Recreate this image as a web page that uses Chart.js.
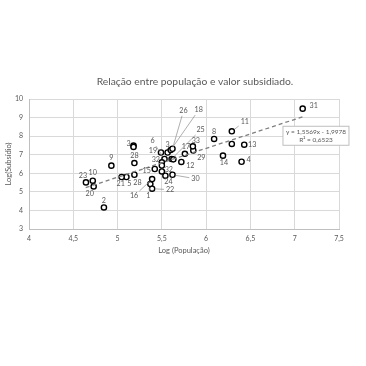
<!DOCTYPE html>
<html>
<head>
<meta charset="utf-8">
<script src="https://cdn.jsdelivr.net/npm/chart.js@4/dist/chart.umd.min.js"></script>
<style>
  html, body { margin: 0; padding: 0; background: #fff; }
  canvas { display: block; }
</style>
</head>
<body>
<canvas id="scatterChart" width="366" height="366"></canvas>
<script>
// point labels as shown next to each marker
let pointLabels = ['1', '2', '3', '', '3', '4', '5', '6', '8', '9', '10', '11', '', '12', '13', '14', '15', '16', '17',
  '18', '19', '20', '21', '22', '23', '24', '25', '26', '28', '28', '29', '30', '31', '32', '32', '33', '', ''];
let logPop = [5.37, 4.846, 5.18, 5.18, 5.565, 6.40, 5.10, 5.53, 6.09, 4.93, 4.72, 6.29, 6.29, 5.72, 6.43, 6.19, 5.42, 5.39, 5.76,
  5.60, 5.49, 4.73, 5.046, 5.39, 4.643, 5.54, 5.61, 5.62, 5.19, 5.19, 5.855, 5.62, 7.09, 5.50, 5.50, 5.85, 5.63, 5.50];
let logSub = [5.42, 4.16, 7.49, 7.42, 7.12, 6.62, 5.80, 6.77, 7.85, 6.41, 5.60, 8.26, 7.58, 6.61, 7.54, 6.95, 6.23, 5.69, 7.05,
  7.25, 7.12, 5.29, 5.80, 5.17, 5.51, 5.87, 6.77, 7.32, 5.92, 6.55, 7.23, 5.92, 9.48, 6.59, 6.10, 7.45, 6.75, 6.42];

// linear trend shown on the chart
let trendSlope = 1.5569;
let trendIntercept = -1.9978;
let trendRange = [4.64, 7.1];
let trendText = ['y = 1,5569x - 1,9978', 'R² = 0,6523'];

let chartTitle = 'Relação entre população e valor subsidiado.';
let xTicks = [4, 4.5, 5, 5.5, 6, 6.5, 7, 7.5];
let yTicks = [3, 4, 5, 6, 7, 8, 9, 10];

// label placement (px offset from marker, leader line)
let labelOffsets = [[-2, 12, true], [0, -7], [-5, -2], null, [0, -8], [7, -2], [3, 7], [-12, -18, true], [0, -7], [0, -8],
  [0, -8], [13, -10, true], null, [9, 4], [8, 0], [1, 7], [-8, 2], [-18, 17, true], [1, -7],
  [28, -40, true], [-8, -2], [-4, 7], [-1, 7], [18, 1, true], [-3, -7], [3, 6], [29, -29, true], [11, -38, true],
  [3, 8], [0, -7], [8, 7], [23, 4, true], [11, -3], [-6, -3], [7, -2], [3, -6], null, null];

let txtColor = '#595959';
let fontFam = 'Lato, "Noto Sans", sans-serif';

let points = logPop.map((x, i) => ({ x: x, y: logSub[i] }));
let trend = trendRange.map(x => ({ x: x, y: trendSlope * x + trendIntercept }));

let labelPlugin = {
  id: 'pointLabels',
  beforeDraw(chart) {
    let ctx = chart.ctx;
    ctx.save();
    ctx.font = '10.3px ' + fontFam;
    ctx.fillStyle = txtColor;
    ctx.textAlign = 'center';
    ctx.textBaseline = 'middle';
    ctx.fillText(chartTitle, 195, 82);
    ctx.restore();
  },
  afterDatasetsDraw(chart) {
    let ctx = chart.ctx;
    let meta = chart.getDatasetMeta(1);
    ctx.save();
    ctx.font = '7.2px ' + fontFam;
    ctx.fillStyle = txtColor;
    ctx.strokeStyle = '#8c8c8c';
    ctx.lineWidth = 0.7;
    ctx.textAlign = 'center';
    ctx.textBaseline = 'middle';
    meta.data.forEach((el, i) => {
      let off = labelOffsets[i];
      if (!off || !pointLabels[i]) return;
      let lx = el.x + off[0], ly = el.y + off[1];
      if (off[2]) {
        let w = ctx.measureText(pointLabels[i]).width / 2 + 2, h = 5;
        let t = Math.min(w / Math.abs(off[0] || 0.001), h / Math.abs(off[1] || 0.001));
        let len = Math.hypot(off[0], off[1]);
        ctx.beginPath();
        ctx.moveTo(el.x + off[0] / len * 3.5, el.y + off[1] / len * 3.5);
        ctx.lineTo(lx - t * off[0], ly - t * off[1]);
        ctx.stroke();
      }
      ctx.fillText(pointLabels[i], lx, ly);
    });

    // trend equation box
    let xs = chart.scales.x, ys = chart.scales.y;
    let cx = xs.getPixelForValue(7.24), cy = ys.getPixelForValue(8.02);
    ctx.font = '6.5px ' + fontFam;
    let bw = 66, bh = 19;
    ctx.fillStyle = '#fff';
    ctx.fillRect(cx - bw / 2, cy - bh / 2, bw, bh);
    ctx.strokeStyle = '#bfbfbf';
    ctx.lineWidth = 1;
    ctx.strokeRect(cx - bw / 2, cy - bh / 2, bw, bh);
    ctx.fillStyle = txtColor;
    ctx.fillText(trendText[0], cx, cy - 4);
    ctx.fillText(trendText[1], cx, cy + 4);
    ctx.restore();
  }
};

let ctx1 = document.getElementById('scatterChart').getContext('2d');

let chart = new Chart(ctx1, {
  type: 'scatter',
  data: {
    datasets: [{
      type: 'line',
      data: trend,
      borderColor: '#7f7f7f',
      borderWidth: 1.3,
      borderDash: [4, 3],
      pointRadius: 0,
      fill: false
    }, {
      data: points,
      pointRadius: 2.6,
      pointBorderWidth: 1.4,
      pointBorderColor: '#000',
      pointBackgroundColor: '#fff'
    }]
  },
  options: {
    responsive: false,
    animation: false,
    devicePixelRatio: 1,
    layout: { padding: { top: 99, left: 0, right: 27, bottom: 107 } },
    plugins: {
      legend: { display: false },
      tooltip: { enabled: false },
      title: { display: false }
    },
    scales: {
      x: {
        type: 'linear',
        min: 4,
        max: 7.5,
        afterFit: s => { s.height = 30; },
        afterBuildTicks: s => { s.ticks = xTicks.map(v => ({ value: v })); },
        ticks: {
          color: txtColor,
          font: { family: fontFam, size: 7 },
          padding: 6,
          callback: v => String(v).replace('.', ',')
        },
        grid: { color: '#d9d9d9', drawTicks: false },
        border: { color: '#bfbfbf' },
        title: {
          display: true,
          text: 'Log (População)',
          color: txtColor,
          font: { family: fontFam, size: 7.5 },
          padding: { top: 2, bottom: 4 }
        }
      },
      y: {
        min: 3,
        max: 10,
        afterFit: s => { s.width = 29; },
        afterBuildTicks: s => { s.ticks = yTicks.map(v => ({ value: v })); },
        ticks: {
          color: txtColor,
          font: { family: fontFam, size: 7 },
          padding: 6
        },
        grid: { color: '#d9d9d9', drawTicks: false },
        border: { color: '#bfbfbf' },
        title: {
          display: true,
          text: 'Log(Subsídio)',
          color: txtColor,
          font: { family: fontFam, size: 7.5 },
          padding: { top: 4, bottom: 2 }
        }
      }
    }
  },
  plugins: [labelPlugin]
});
</script>
</body>
</html>
